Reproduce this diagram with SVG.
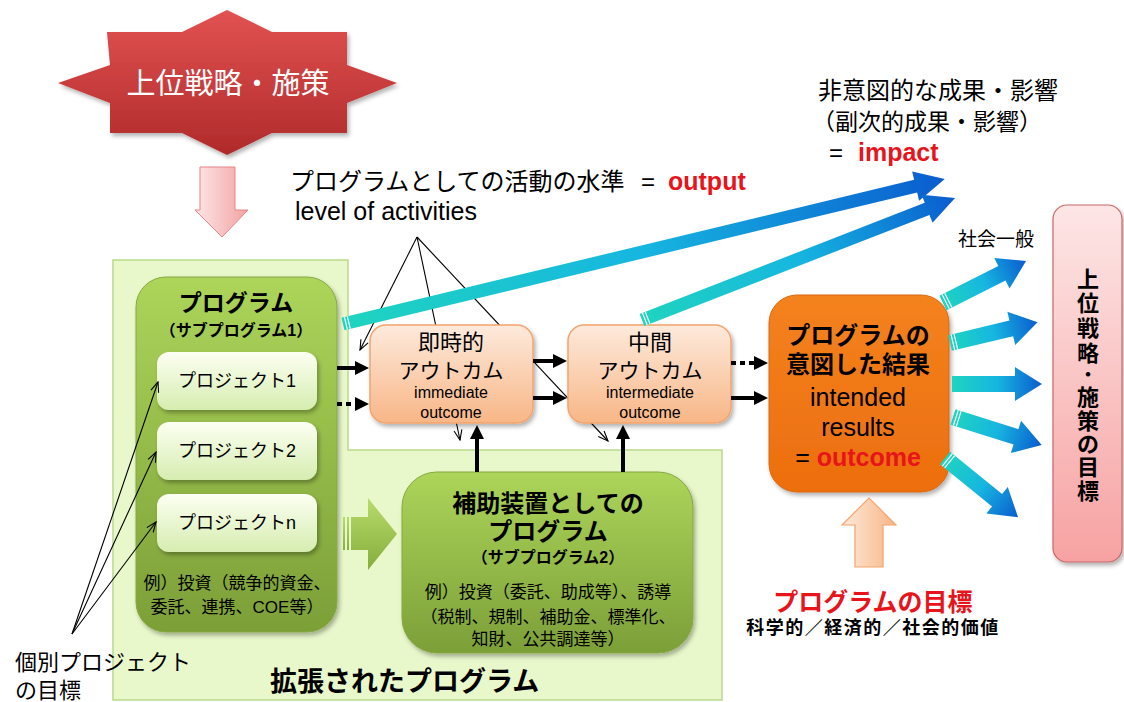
<svg xmlns="http://www.w3.org/2000/svg" width="1124" height="702" viewBox="0 0 1124 702">
<defs>
<style>
text{font-family:'Liberation Sans','Noto Sans CJK JP',sans-serif;dominant-baseline:central;fill:#000}
.b{font-weight:bold}
.c{text-anchor:middle}
.red{fill:#e8141c}
.thin{stroke:#000;stroke-width:1.1;fill:none;marker-end:url(#open)}
.thick{stroke:#000;stroke-width:4;fill:none;marker-end:url(#solid)}
.dot{stroke-dasharray:5 4}
.stripe{stroke:#fff;stroke-width:1.2}
</style>
<linearGradient id="gStar" x1="0" y1="0" x2="0" y2="1"><stop offset="0" stop-color="#e25252"/><stop offset="1" stop-color="#b02a2a"/></linearGradient>
<linearGradient id="gPinkDown" x1="0" y1="0" x2="1" y2="0"><stop offset="0" stop-color="#fde6e6"/><stop offset="1" stop-color="#f3a3a3"/></linearGradient>
<linearGradient id="gProg" x1="0" y1="0" x2="0" y2="1"><stop offset="0" stop-color="#acd55a"/><stop offset="1" stop-color="#7c9f38"/></linearGradient>
<linearGradient id="gProj" x1="0" y1="0" x2="0" y2="1"><stop offset="0" stop-color="#fcfff2"/><stop offset="1" stop-color="#d6edb0"/></linearGradient>
<linearGradient id="gPeach" x1="0" y1="0" x2="0" y2="1"><stop offset="0" stop-color="#fdeadc"/><stop offset="1" stop-color="#f8b686"/></linearGradient>
<linearGradient id="gOrange" x1="0" y1="0" x2="0" y2="1"><stop offset="0" stop-color="#f4821e"/><stop offset="1" stop-color="#ec6e0e"/></linearGradient>
<linearGradient id="gPink" x1="0" y1="0" x2="0" y2="1"><stop offset="0" stop-color="#fde6e6"/><stop offset="1" stop-color="#f7a2a2"/></linearGradient>
<linearGradient id="gBlue" x1="0" y1="0" x2="1" y2="0"><stop offset="0" stop-color="#1fd4bf"/><stop offset="0.5" stop-color="#16b6e0"/><stop offset="1" stop-color="#0a5ccf"/></linearGradient>
<linearGradient id="gPeachUp" x1="0" y1="0" x2="1" y2="0"><stop offset="0" stop-color="#fdeadb"/><stop offset="1" stop-color="#f8b584"/></linearGradient>
<linearGradient id="gGreenArrow" x1="0" y1="0" x2="0" y2="1"><stop offset="0" stop-color="#b8dc6c"/><stop offset="1" stop-color="#86ad3c"/></linearGradient>
<filter id="sh" x="-10%" y="-10%" width="130%" height="130%"><feDropShadow dx="2" dy="3" stdDeviation="2" flood-color="#000" flood-opacity="0.3"/></filter>
<marker id="open" markerUnits="userSpaceOnUse" markerWidth="12" markerHeight="10" viewBox="0 0 12 10" refX="11" refY="5" orient="auto"><path d="M1,1 L11,5 L1,9" fill="none" stroke="#000" stroke-width="1.1"/></marker>
<marker id="solid" markerUnits="userSpaceOnUse" markerWidth="14" markerHeight="14" viewBox="0 0 14 14" refX="2" refY="7" orient="auto"><path d="M0,0 L14,7 L0,14 Z" fill="#000"/></marker>
</defs>
<rect width="1124" height="702" fill="#fff"/>

<g id="extended-program">
<path d="M113,260 H348 V450 H722 V700 H113 Z" fill="#e8f8cb" stroke="#b9d98b" stroke-width="1.5"/>
<text x="270" y="682" class="b" font-size="27">拡張されたプログラム</text>
</g>

<g id="upper-strategy-star">
<path d="M227,10 L182,32 L107,32 L110,65 L58,83 L110,103 L110,133 L182,133 L227,155 L272,133 L347,133 L347,103 L397,83 L347,65 L347,32 L272,32 Z" fill="url(#gStar)" filter="url(#sh)"/>
<text x="228" y="84" class="c" font-size="29" style="fill:#fff">上位戦略・施策</text>
</g>

<g id="down-arrow">
<path d="M200,167 H235 V210 H248 L222,237 L195,210 H200 Z" fill="url(#gPinkDown)" stroke="#e58585" stroke-width="1"/>
</g>

<g id="program">
<rect x="136" y="277" width="201" height="355" rx="30" fill="url(#gProg)" stroke="#86a844" stroke-width="1" filter="url(#sh)"/>
<text x="236" y="303" class="c b" font-size="23">プログラム</text>
<text x="236" y="330" class="c b" font-size="16">（サブプログラム1）</text>
<text x="237" y="583" class="c" font-size="17">例）投資（競争的資金、</text>
<text x="237" y="607" class="c" font-size="17">委託、連携、COE等）</text>
</g>
<g id="project1">
<rect x="157" y="352" width="160" height="58" rx="12" fill="url(#gProj)" filter="url(#sh)"/>
<text x="237" y="381" class="c" font-size="18">プロジェクト1</text>
</g>
<g id="project2">
<rect x="157" y="422" width="160" height="58" rx="12" fill="url(#gProj)" filter="url(#sh)"/>
<text x="237" y="451" class="c" font-size="18">プロジェクト2</text>
</g>
<g id="projectn">
<rect x="157" y="494" width="160" height="58" rx="12" fill="url(#gProj)" filter="url(#sh)"/>
<text x="237" y="523" class="c" font-size="18">プロジェクトn</text>
</g>

<g id="green-arrow">
<rect x="343" y="517" width="2" height="33" fill="url(#gGreenArrow)"/>
<rect x="347" y="517" width="2" height="33" fill="url(#gGreenArrow)"/>
<path d="M351,517 H368 V498 L397,534 L368,570 V550 H351 Z" fill="url(#gGreenArrow)"/>
</g>

<g id="subprogram2">
<rect x="402" y="472" width="291" height="181" rx="35" fill="url(#gProg)" stroke="#86a844" stroke-width="1" filter="url(#sh)"/>
<text x="548" y="503" class="c b" font-size="24">補助装置としての</text>
<text x="548" y="531" class="c b" font-size="24">プログラム</text>
<text x="548" y="557" class="c b" font-size="16">（サブプログラム2）</text>
<text x="548" y="592" class="c" font-size="17">例）投資（委託、助成等）、誘導</text>
<text x="548" y="617" class="c" font-size="17">（税制、規制、補助金、標準化、</text>
<text x="548" y="639" class="c" font-size="17">知財、公共調達等）</text>
</g>

<g id="connectors">
<line x1="417" y1="237" x2="360" y2="350" class="thin"/>
<line x1="417" y1="237" x2="460" y2="440" class="thin"/>
<line x1="417" y1="237" x2="608" y2="441" class="thin"/>
<line x1="72" y1="634" x2="158" y2="382" class="thin"/>
<line x1="72" y1="634" x2="156" y2="452" class="thin"/>
<line x1="72" y1="634" x2="156" y2="522" class="thin"/>
</g>

<g id="immediate-outcome">
<rect x="370" y="325" width="163" height="98" rx="16" fill="url(#gPeach)" stroke="#f2a46e" stroke-width="1.5" filter="url(#sh)"/>
<text x="451" y="342" class="c" font-size="22">即時的</text>
<text x="451" y="370" class="c" font-size="21">アウトカム</text>
<text x="451" y="392" class="c" font-size="16">immediate</text>
<text x="451" y="412" class="c" font-size="16">outcome</text>
</g>
<g id="intermediate-outcome">
<rect x="568" y="325" width="163" height="98" rx="16" fill="url(#gPeach)" stroke="#f2a46e" stroke-width="1.5" filter="url(#sh)"/>
<text x="650" y="342" class="c" font-size="22">中間</text>
<text x="650" y="370" class="c" font-size="21">アウトカム</text>
<text x="650" y="392" class="c" font-size="16">intermediate</text>
<text x="650" y="412" class="c" font-size="16">outcome</text>
</g>

<g id="flow-arrows">
<line x1="337" y1="368" x2="357" y2="368" class="thick"/>
<line x1="337" y1="404" x2="357" y2="404" class="thick dot"/>
<line x1="533" y1="361" x2="555" y2="361" class="thick"/>
<line x1="533" y1="398" x2="555" y2="398" class="thick"/>
<line x1="731" y1="363" x2="756" y2="363" class="thick dot"/>
<line x1="731" y1="398" x2="756" y2="398" class="thick"/>
<line x1="477" y1="472" x2="477" y2="437" class="thick"/>
<line x1="623" y1="472" x2="623" y2="437" class="thick"/>
</g>

<g id="impact-arrows">
<g transform="translate(343,324) rotate(-13.54)">
<path d="M0,-6.5 L589,-6.5 L589,-15 L619,0 L589,15 L589,6.5 L0,6.5 Z" fill="url(#gBlue)"/>
<line x1="3" y1="-6.5" x2="3" y2="6.5" class="stripe"/><line x1="6" y1="-6.5" x2="6" y2="6.5" class="stripe"/>
</g>
<g transform="translate(642,320) rotate(-21.3)">
<path d="M0,-6.5 L306,-6.5 L306,-15 L336,0 L306,15 L306,6.5 L0,6.5 Z" fill="url(#gBlue)"/>
<line x1="3" y1="-6.5" x2="3" y2="6.5" class="stripe"/><line x1="6" y1="-6.5" x2="6" y2="6.5" class="stripe"/>
</g>
</g>

<g id="intended-results">
<rect x="769" y="295" width="180" height="197" rx="28" fill="url(#gOrange)" stroke="#d8670e" stroke-width="1" filter="url(#sh)"/>
<text x="858" y="335" class="c b" font-size="24">プログラムの</text>
<text x="858" y="364" class="c b" font-size="24">意図した結果</text>
<text x="858" y="397" class="c" font-size="25">intended</text>
<text x="858" y="427" class="c" font-size="25">results</text>
<text x="858" y="457" class="c" font-size="25">= <tspan class="b red">outcome</tspan></text>
</g>

<g id="goal-arrows">
<g transform="translate(943,303) rotate(-26.8)">
<path d="M0,-8 L66,-8 L66,-17 L93,0 L66,17 L66,8 L0,8 Z" fill="url(#gBlue)"/>
<line x1="3" y1="-8" x2="3" y2="8" class="stripe"/><line x1="6" y1="-8" x2="6" y2="8" class="stripe"/>
</g>
<g transform="translate(950,343) rotate(-13.4)">
<path d="M0,-8 L63,-8 L63,-17 L90,0 L63,17 L63,8 L0,8 Z" fill="url(#gBlue)"/>
<line x1="3" y1="-8" x2="3" y2="8" class="stripe"/><line x1="6" y1="-8" x2="6" y2="8" class="stripe"/>
</g>
<g transform="translate(952,384)">
<path d="M0,-8 L63,-8 L63,-17 L90,0 L63,17 L63,8 L0,8 Z" fill="url(#gBlue)"/>
</g>
<g transform="translate(953,417) rotate(17.5)">
<path d="M0,-8 L66,-8 L66,-17 L93,0 L66,17 L66,8 L0,8 Z" fill="url(#gBlue)"/>
<line x1="3" y1="-8" x2="3" y2="8" class="stripe"/><line x1="6" y1="-8" x2="6" y2="8" class="stripe"/>
</g>
<g transform="translate(945,458) rotate(39)">
<path d="M0,-8 L67,-8 L67,-17 L94,0 L67,17 L67,8 L0,8 Z" fill="url(#gBlue)"/>
<line x1="3" y1="-8" x2="3" y2="8" class="stripe"/><line x1="6" y1="-8" x2="6" y2="8" class="stripe"/>
</g>
</g>

<g id="upper-strategy-goal">
<rect x="1053" y="205" width="69" height="357" rx="14" fill="url(#gPink)" stroke="#c86868" stroke-width="1.2" filter="url(#sh)"/>
<text x="1088" y="279" class="c b" font-size="22">上</text>
<text x="1088" y="303" class="c b" font-size="22">位</text>
<text x="1088" y="328" class="c b" font-size="22">戦</text>
<text x="1088" y="353" class="c b" font-size="22">略</text>
<text x="1088" y="375" class="c b" font-size="18">・</text>
<text x="1088" y="397" class="c b" font-size="22">施</text>
<text x="1088" y="421" class="c b" font-size="22">策</text>
<text x="1088" y="444" class="c b" font-size="22">の</text>
<text x="1088" y="467" class="c b" font-size="22">目</text>
<text x="1088" y="491" class="c b" font-size="22">標</text>
</g>

<g id="program-goal">
<path d="M869,498 L896,525 H883 V567 H855 V525 H842 Z" fill="url(#gPeachUp)" stroke="#f4a46c" stroke-width="1.2"/>
<text x="873" y="602" class="c b red" font-size="25">プログラムの目標</text>
<text x="873" y="628" class="c b" font-size="18" letter-spacing="1.5">科学的／経済的／社会的価値</text>
</g>

<g id="labels">
<text x="290" y="181" font-size="24">プログラムとしての活動の水準</text>
<text x="641" y="181" font-size="24">=</text>
<text x="668" y="181" class="b red" font-size="25">output</text>
<text x="295" y="211" font-size="25">level of activities</text>
<text x="818" y="90" font-size="24">非意図的な成果・影響</text>
<text x="812" y="122" font-size="23">（副次的成果・影響）</text>
<text x="829" y="152" font-size="24">=</text>
<text x="858" y="152" class="b red" font-size="25">impact</text>
<text x="996" y="239" class="c" font-size="19">社会一般</text>
<text x="15" y="662" font-size="22">個別プロジェクト</text>
<text x="15" y="690" font-size="22">の目標</text>
</g>
</svg>
